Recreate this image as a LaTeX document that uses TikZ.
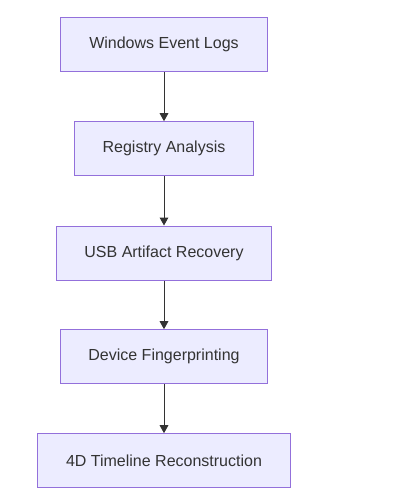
\documentclass[tikz,border=0pt]{standalone}
\usepackage{fontspec}
\setmainfont{Liberation Sans}
\usetikzlibrary{arrows.meta}
\definecolor{boxfill}{HTML}{ECECFF}
\definecolor{boxline}{HTML}{9370DB}
\definecolor{inkgray}{HTML}{333333}
\tikzset{
	stagebox/.style={draw=boxline, fill=boxfill, line width=0.75pt, minimum height=40.5pt, inner xsep=21.3pt, text=inkgray, font=\fontsize{12}{14}\selectfont},
	flowline/.style={draw=inkgray, line width=0.75pt, -{Triangle[length=6pt,width=6.5pt]}}
}

\begin{document}
\begin{tikzpicture}[x=0.75pt,y=-0.75pt]
		%%%%% START %%%%%
		
		\useasboundingbox (0,0) rectangle (404,494);
		
		\node[stagebox] (logs) at (164,44.5) {Windows Event Logs};
		\node[stagebox] (registry) at (164,148.7) {Registry Analysis};
		\node[stagebox] (usb) at (164,253) {USB Artifact Recovery};
		\node[stagebox] (finger) at (164,356.7) {Device Fingerprinting};
		\node[stagebox] (timeline) at (164,460.7) {4D Timeline Reconstruction};
		
		\draw[flowline] (logs) -- (registry);
		\draw[flowline] (registry) -- (usb);
		\draw[flowline] (usb) -- (finger);
		\draw[flowline] (finger) -- (timeline);
		
		%%%%% END %%%%%
\end{tikzpicture}
\end{document}
